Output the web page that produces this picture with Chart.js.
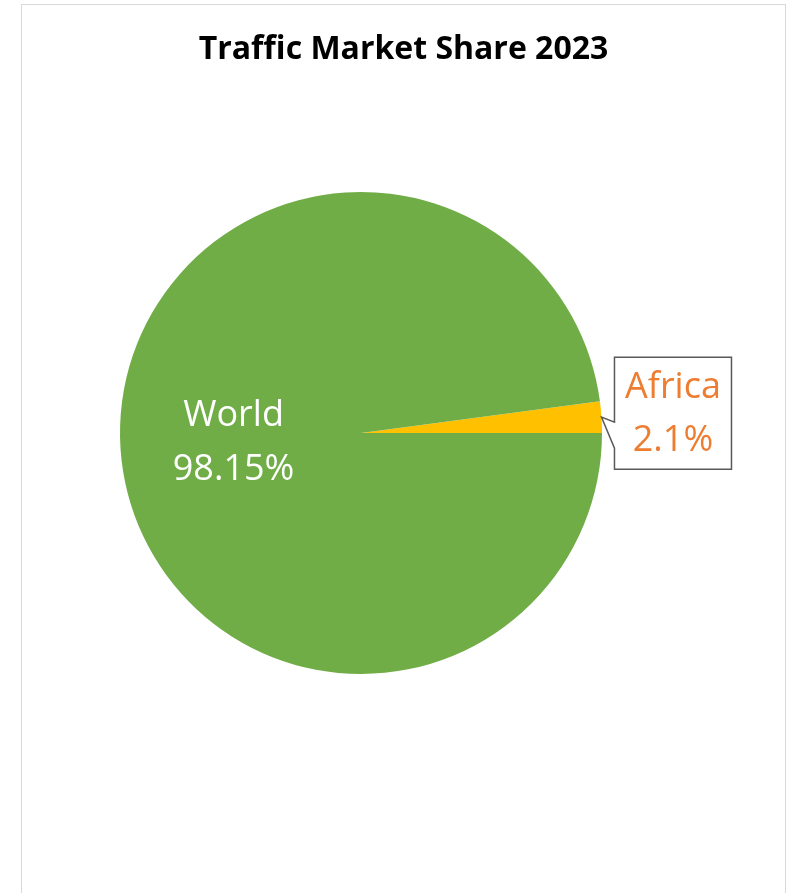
<!DOCTYPE html>
<html>
<head>
<meta charset="utf-8">
<title>Traffic Market Share 2023</title>
<script src="https://cdn.jsdelivr.net/npm/chart.js@4.4.1/dist/chart.umd.min.js"></script>
<style>
    html, body {
        margin: 0;
        padding: 0;
        background: #ffffff;
        overflow: hidden;
    }
    #chartContainer {
        position: absolute;
        left: 21px;
        top: 4px;
        width: 763px;
        height: 900px;
        border: 1px solid #d9d9d9;
        background: #ffffff;
    }
    #chartCanvas {
        display: block;
    }
</style>
</head>
<body>
<div id="chartContainer">
    <canvas id="chartCanvas" width="763" height="900"></canvas>
</div>
<script>
// Chart data
const chartTitle = "Traffic Market Share 2023";
const categories = ["Africa", "World"];
const shareValues = [2.1, 98.15];
const shareLabels = ["2.1%", "98.15%"];
const sliceColors = ["#FFC000", "#70AD47"];

// Start Africa just above 3 o'clock so it ends on the horizontal
const total = shareValues.reduce((a, b) => a + b, 0);
const startRotation = 90 - 360 * shareValues[0] / total;

// Title centred on the whole frame (the built-in one follows the pie)
const titlePlugin = {
    id: "frameTitle",
    afterDraw(chart) {
        const ctx = chart.ctx;
        ctx.save();
        ctx.font = "bold 32px 'Open Sans'";
        ctx.fillStyle = "#000000";
        ctx.textAlign = "center";
        ctx.textBaseline = "middle";
        ctx.fillText(chartTitle, chart.width / 2, 45);
        ctx.restore();
    }
};

// Data labels: World inside the slice, Africa in a callout box
const labelPlugin = {
    id: "sliceLabels",
    afterDatasetsDraw(chart) {
        const ctx = chart.ctx;
        const meta = chart.getDatasetMeta(0);
        ctx.save();
        ctx.font = "36px 'Open Sans'";
        ctx.textAlign = "center";
        ctx.textBaseline = "middle";

        meta.data.forEach((arc, i) => {
            const mid = (arc.startAngle + arc.endAngle) / 2;
            const r = arc.outerRadius;
            if (categories[i] === "World") {
                const x = arc.x + Math.cos(mid) * r * 0.53;
                const y = arc.y + Math.sin(mid) * r * 0.53;
                ctx.fillStyle = "#ffffff";
                ctx.fillText(categories[i], x, y - 26);
                ctx.fillText(shareLabels[i], x, y + 28);
            } else {
                // callout pointing at the outer edge of the slice
                const tipX = arc.x + Math.cos(mid) * r;
                const tipY = arc.y + Math.sin(mid) * r;
                const left = tipX + 13;
                const top = tipY - 60;
                const w = 117;
                const h = 112;
                ctx.beginPath();
                ctx.moveTo(left, top);
                ctx.lineTo(left + w, top);
                ctx.lineTo(left + w, top + h);
                ctx.lineTo(left, top + h);
                ctx.lineTo(left, tipY + 31);
                ctx.lineTo(tipX, tipY);
                ctx.lineTo(left, tipY + 5);
                ctx.closePath();
                ctx.fillStyle = "#ffffff";
                ctx.fill();
                ctx.lineWidth = 1.5;
                ctx.strokeStyle = "#595959";
                ctx.stroke();

                ctx.fillStyle = "#ED7D31";
                ctx.fillText(categories[i], left + w / 2, top + 31);
                ctx.fillText(shareLabels[i], left + w / 2, top + 84);
            }
        });
        ctx.restore();
    }
};

const ctx = document.getElementById("chartCanvas").getContext("2d");
const chart = new Chart(ctx, {
    type: "pie",
    data: {
        labels: categories,
        datasets: [{
            data: shareValues,
            backgroundColor: sliceColors,
            borderWidth: 0
        }]
    },
    options: {
        responsive: false,
        animation: false,
        rotation: startRotation,
        layout: {
            padding: { left: 98, right: 183, top: 187, bottom: 231 }
        },
        plugins: {
            legend: { display: false },
            tooltip: { enabled: false },
            title: { display: false }
        }
    },
    plugins: [labelPlugin, titlePlugin]
});
</script>
</body>
</html>
